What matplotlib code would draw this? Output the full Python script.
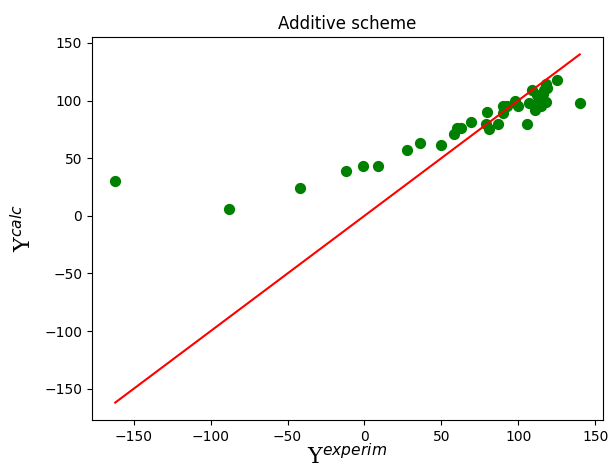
#Additive scheme: calculated vs experimental values
import matplotlib
matplotlib.use('Agg')
import matplotlib.pyplot as plt

#experimental values
y_experim = [-162, -88, -42, -12, -1, 9, 28, 36, 50, 58, 60, 63, 69, 80, 79, 81, 87,
             90, 93, 90, 98, 100, 106, 107, 109, 110, 115, 112, 116, 118, 119, 118,
             125, 140, 114, 117, 111]
#calculated values
y_calc = [30, 6, 24, 39, 43, 43, 57, 63, 61, 71, 76, 76, 81, 90, 80, 75, 80,
          95, 95, 89, 100, 95, 80, 98, 109, 96, 95, 105, 106, 114, 111, 99,
          118, 98, 102, 109, 92]

fig = plt.figure(figsize=(6.08, 4.68), dpi=100)
ax = fig.add_axes([92/608, 48/468, 511/608, 383/468])

ax.scatter(y_experim, y_calc, color='green', s=50)
#ideal line y = x
lo, hi = min(y_experim), max(y_experim)
ax.plot([lo, hi], [lo, hi], color='red')

ax.set_title('Additive scheme')
ax.set_xlabel('Υ$^{experim}$', fontsize=16, family='DejaVu Serif', labelpad=0)
ax.set_ylabel('Υ$^{calc}$', fontsize=16, family='DejaVu Serif', labelpad=6)

fig.savefig('out.png', dpi=100)
